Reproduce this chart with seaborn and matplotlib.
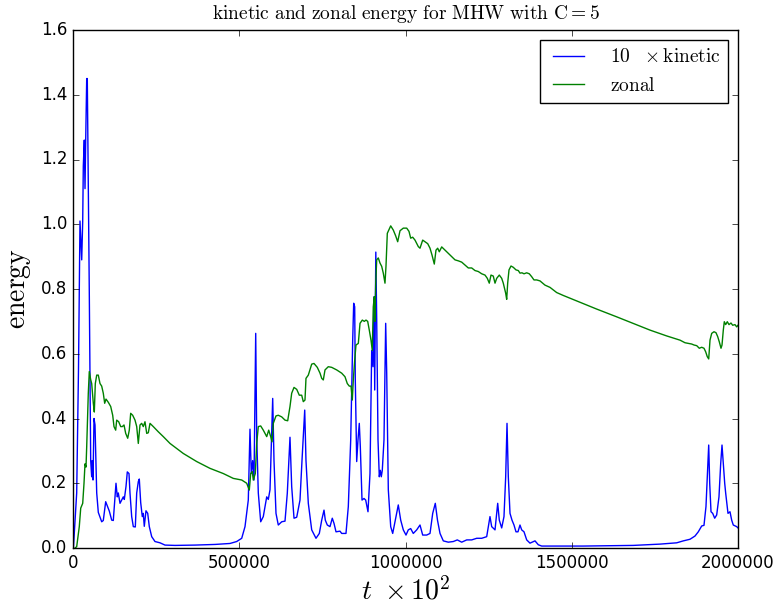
import numpy as np
import pandas as pd
import matplotlib
matplotlib.use("Agg")
import matplotlib.pyplot as plt
import seaborn as sns

# Time samples (t x 10^2) and 10 x kinetic energy
t_kin = [1500, 11100, 16500, 21000, 26200, 29200, 31000, 34000, 36100, 38200,
         41200, 43000, 49000, 53200, 56200, 58000, 60200, 63200, 66200, 71300,
         76100, 86300, 91100, 98300, 103200, 109200, 116400, 121200, 126300, 129300,
         133200, 136200, 141400, 146500, 151300, 154300, 159400, 163300, 168400, 171400,
         176500, 181400, 187400, 191600, 196400, 199400, 203600, 208400, 211400, 214400,
         219500, 224700, 229500, 236700, 246600, 261700, 276700, 306800, 366900, 427100,
         472200, 492300, 507400, 517300, 527200, 532300, 536200, 540400, 544400, 549500,
         552500, 557300, 564500, 572300, 582600, 587400, 592500, 600600, 604500, 610500,
         617400, 627700, 637600, 644500, 652600, 657700, 664700, 672800, 682700, 688700,
         696900, 700700, 707700, 717900, 730800, 740800, 748000, 754900, 758800, 764800,
         772900, 779800, 785000, 791000, 803000, 808100, 821000, 828000, 835200, 841200,
         844200, 847200, 849000, 853200, 857100, 861000, 864100, 869200, 875200, 880300,
         887200, 893200, 898300, 902300, 905300, 907400, 910700, 913400, 917300, 921200,
         924200, 927200, 930200, 935300, 940400, 943500, 948300, 955500, 961500, 968400,
         978300, 985600, 993400, 1001500, 1008400, 1015600, 1023400, 1033700, 1043600, 1051700,
         1063700, 1073700, 1081800, 1089600, 1096200, 1103800, 1113700, 1128700, 1143800, 1155800,
         1169000, 1184100, 1199100, 1214100, 1229200, 1244200, 1254100, 1259200, 1269200, 1277300,
         1282100, 1289300, 1296200, 1301300, 1305300, 1309200, 1314300, 1320300, 1326300, 1332300,
         1338300, 1344300, 1349400, 1356400, 1364500, 1374400, 1389500, 1399400, 1409600, 1534700,
         1685100, 1765400, 1815600, 1835500, 1855600, 1870700, 1880600, 1890800, 1897700, 1903700,
         1907600, 1911900, 1914900, 1918800, 1923900, 1929900, 1935900, 1942800, 1947900, 1951900,
         1955800, 1960000, 1963000, 1966000, 1969900, 1975900, 1981000, 1985800, 1996000, 2000000]
kinetic10 = [0.005, 0.17, 0.55, 1.01, 0.89, 1.01, 1.18, 1.26, 1.11, 1.26,
             1.45, 1.45, 0.79, 0.27, 0.22, 0.27, 0.21, 0.40, 0.38, 0.17,
             0.11, 0.081, 0.085, 0.143, 0.13, 0.114, 0.086, 0.085, 0.158, 0.20,
             0.158, 0.17, 0.138, 0.148, 0.158, 0.15, 0.19, 0.235, 0.23, 0.17,
             0.097, 0.066, 0.065, 0.17, 0.205, 0.213, 0.14, 0.097, 0.107, 0.067,
             0.115, 0.107, 0.066, 0.035, 0.02, 0.016, 0.009, 0.008, 0.009, 0.011,
             0.014, 0.02, 0.03, 0.066, 0.148, 0.367, 0.23, 0.27, 0.21, 0.663,
             0.344, 0.17, 0.081, 0.097, 0.158, 0.15, 0.18, 0.462, 0.27, 0.107,
             0.071, 0.081, 0.083, 0.169, 0.342, 0.19, 0.092, 0.095, 0.148, 0.27,
             0.426, 0.27, 0.138, 0.056, 0.03, 0.045, 0.086, 0.117, 0.086, 0.071,
             0.066, 0.092, 0.076, 0.05, 0.052, 0.045, 0.045, 0.128, 0.334, 0.642,
             0.756, 0.745, 0.519, 0.267, 0.334, 0.385, 0.313, 0.148, 0.153, 0.148,
             0.112, 0.23, 0.61, 0.56, 0.776, 0.488, 0.914, 0.704, 0.334, 0.22,
             0.24, 0.22, 0.24, 0.334, 0.694, 0.54, 0.18, 0.066, 0.045, 0.081,
             0.133, 0.086, 0.056, 0.04, 0.056, 0.06, 0.045, 0.056, 0.071, 0.04,
             0.04, 0.045, 0.107, 0.138, 0.086, 0.045, 0.022, 0.018, 0.02, 0.025,
             0.018, 0.025, 0.025, 0.03, 0.03, 0.035, 0.097, 0.066, 0.056, 0.138,
             0.086, 0.062, 0.097, 0.22, 0.385, 0.22, 0.107, 0.086, 0.071, 0.05,
             0.05, 0.071, 0.056, 0.05, 0.025, 0.015, 0.022, 0.01, 0.006, 0.006,
             0.008, 0.012, 0.016, 0.022, 0.027, 0.037, 0.05, 0.068, 0.07, 0.128,
             0.22, 0.318, 0.2, 0.112, 0.107, 0.092, 0.102, 0.158, 0.26, 0.318,
             0.26, 0.2, 0.169, 0.143, 0.107, 0.112, 0.086, 0.071, 0.066, 0.062]

# Time samples and zonal energy
t_zon = [6000, 11100, 18900, 23200, 29200, 33100, 36100, 39100, 41200, 46000,
         49000, 53200, 56200, 61100, 64100, 67100, 71300, 76100, 81200, 86300,
         91100, 95300, 99200, 106200, 113400, 119400, 123300, 128400, 131400, 137400,
         143500, 148300, 153400, 158500, 164500, 169300, 173500, 179500, 186500, 191600,
         196400, 201500, 206600, 211400, 216500, 221700, 226500, 231600, 241500, 256500,
         271600, 291700, 331700, 372000, 412000, 452000, 482100, 507400, 522400, 530200,
         534400, 539200, 542200, 548300, 552500, 557300, 564500, 572300, 582600, 588600,
         594600, 598500, 602400, 610500, 617400, 627700, 637600, 645700, 652600, 657700,
         664700, 672800, 680600, 687800, 692600, 697700, 700700, 707700, 717900, 724800,
         734700, 742900, 748000, 752800, 757900, 767800, 778000, 793100, 808100, 818000,
         824900, 831000, 836100, 840000, 843000, 847200, 851100, 858100, 863200, 870100,
         876100, 881200, 886300, 891100, 896200, 900100, 903100, 906200, 908200, 910400,
         913400, 918200, 923300, 928400, 933200, 938300, 941300, 945300, 955500, 963300,
         970500, 976500, 983500, 993400, 1003600, 1010500, 1015600, 1021600, 1028600, 1038500,
         1043600, 1051700, 1058600, 1066800, 1073700, 1079700, 1086600, 1091700, 1096800, 1101600,
         1108900, 1118800, 1128700, 1138900, 1148900, 1158800, 1169000, 1178900, 1188900, 1199100,
         1209000, 1218900, 1229200, 1239100, 1246000, 1252000, 1257100, 1264000, 1269200, 1274300,
         1282100, 1289300, 1294100, 1301300, 1304300, 1307300, 1311300, 1317300, 1324200, 1332300,
         1339200, 1344300, 1350400, 1356400, 1364500, 1372300, 1379500, 1386400, 1394600, 1404500,
         1419500, 1434600, 1454700, 1474600, 1524800, 1575000, 1635200, 1735400, 1785600, 1825600,
         1840600, 1850500, 1860700, 1867700, 1875800, 1883600, 1890800, 1897700, 1902800, 1907600,
         1911900, 1915800, 1920900, 1927800, 1933800, 1938900, 1943700, 1948900, 1951900, 1955800,
         1958800, 1963000, 1967800, 1972900, 1978900, 1984000, 1990900, 1996000, 2000000]
zonal = [0.0, 0.004, 0.066, 0.123, 0.138, 0.2, 0.26, 0.25, 0.313, 0.478,
         0.545, 0.52, 0.508, 0.447, 0.42, 0.508, 0.534, 0.534, 0.508, 0.50,
         0.478, 0.447, 0.46, 0.45, 0.437, 0.41, 0.375, 0.364, 0.395, 0.39,
         0.375, 0.375, 0.38, 0.354, 0.339, 0.364, 0.416, 0.41, 0.395, 0.375,
         0.323, 0.38, 0.385, 0.375, 0.39, 0.354, 0.356, 0.385, 0.375, 0.359,
         0.344, 0.323, 0.292, 0.267, 0.246, 0.23, 0.215, 0.21, 0.2, 0.179,
         0.23, 0.236, 0.21, 0.23, 0.323, 0.375, 0.377, 0.364, 0.344, 0.364,
         0.344, 0.328, 0.385, 0.408, 0.41, 0.405, 0.395, 0.393, 0.437, 0.478,
         0.496, 0.49, 0.472, 0.472, 0.452, 0.457, 0.524, 0.534, 0.568, 0.57,
         0.558, 0.54, 0.524, 0.519, 0.55, 0.56, 0.558, 0.55, 0.54, 0.529,
         0.508, 0.50, 0.50, 0.457, 0.519, 0.58, 0.627, 0.632, 0.694, 0.704,
         0.70, 0.704, 0.70, 0.673, 0.642, 0.61, 0.745, 0.776, 0.70, 0.818,
         0.89, 0.896, 0.88, 0.87, 0.849, 0.818, 0.87, 0.972, 0.995, 0.982,
         0.964, 0.946, 0.98, 0.988, 0.988, 0.978, 0.957, 0.96, 0.951, 0.931,
         0.926, 0.951, 0.946, 0.94, 0.926, 0.905, 0.877, 0.92, 0.926, 0.915,
         0.93, 0.92, 0.91, 0.90, 0.89, 0.887, 0.883, 0.874, 0.865, 0.865,
         0.857, 0.854, 0.847, 0.843, 0.833, 0.818, 0.843, 0.84, 0.818, 0.833,
         0.843, 0.833, 0.818, 0.787, 0.768, 0.818, 0.859, 0.871, 0.867, 0.859,
         0.857, 0.849, 0.85, 0.847, 0.85, 0.847, 0.838, 0.828, 0.828, 0.825,
         0.812, 0.805, 0.789, 0.78, 0.759, 0.738, 0.714, 0.673, 0.655, 0.642,
         0.634, 0.632, 0.63, 0.627, 0.625, 0.617, 0.62, 0.617, 0.606, 0.591,
         0.584, 0.642, 0.663, 0.668, 0.665, 0.653, 0.637, 0.617, 0.627, 0.673,
         0.699, 0.69, 0.699, 0.69, 0.695, 0.688, 0.69, 0.683, 0.688]

x_ticks = [0, 500000, 1000000, 1500000, 2000000]
y_ticks = [0.0, 0.2, 0.4, 0.6, 0.8, 1.0, 1.2, 1.4, 1.6]

plt.style.use("classic")
plt.rcParams["mathtext.fontset"] = "cm"
plt.rcParams["font.family"] = ["DejaVu Sans"]

fig = plt.figure(figsize=(7.82, 6.09), dpi=100, facecolor="white")
ax = fig.add_axes([73 / 782, 61 / 609, 665 / 782, 518 / 609])
ax.set_facecolor("white")

kin_df = pd.DataFrame({"t": t_kin, "energy": kinetic10})
zon_df = pd.DataFrame({"t": t_zon, "energy": zonal})

sns.lineplot(data=kin_df, x="t", y="energy", ax=ax, color="#0000ff", lw=1.0,
             estimator=None, sort=False, label=r"$\mathrm{10\ \ \times kinetic}$")
sns.lineplot(data=zon_df, x="t", y="energy", ax=ax, color="#008000", lw=1.0,
             estimator=None, sort=False, label=r"$\mathrm{zonal}$")

ax.set_xlim(0, 2000000)
ax.set_ylim(0, 1.6)
ax.set_xticks(x_ticks)
ax.set_yticks(y_ticks)
ax.set_xticklabels([str(v) for v in x_ticks])
ax.set_yticklabels([f"{v:.1f}" for v in y_ticks])
ax.tick_params(direction="in", length=4, labelsize=12, top=True, right=True)

ax.set_title(r"$\mathrm{kinetic\ and\ zonal\ energy\ for\ MHW\ with\ C{=}5}$",
             fontsize=14, pad=8)
ax.set_xlabel(r"$t\ \times 10^2$", fontsize=20, labelpad=4)
ax.set_ylabel(r"$\mathrm{energy}$", fontsize=20, labelpad=6)

leg = ax.legend(loc="upper right", fontsize=14, frameon=True, fancybox=False,
                borderpad=0.4, handlelength=2.2, handletextpad=1.0)
leg.get_frame().set_edgecolor("black")
leg.get_frame().set_linewidth(1.0)

fig.savefig("out.png", dpi=100, facecolor="white")
